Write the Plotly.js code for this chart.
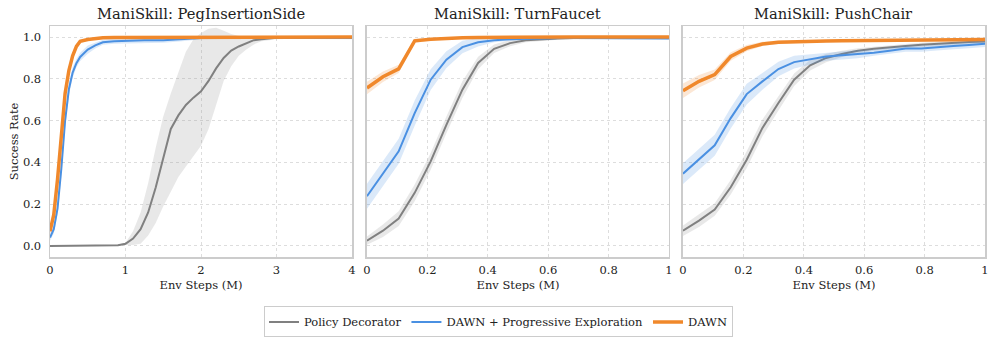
<!DOCTYPE html>
<html>
<head>
<meta charset="utf-8">
<script src="https://cdn.plot.ly/plotly-3.0.1.min.js"></script>
<style>
  body { margin: 0; background: #fff; }
  #chart { width: 997px; height: 340px; }
</style>
</head>
<body>
<div id="chart"></div>
<script>
// PegInsertionSide (0 - 4 M steps)
var pegX = [0, 0.05, 0.1, 0.15, 0.2, 0.25, 0.3, 0.35, 0.4, 0.5, 0.6, 0.7, 0.85, 1.0, 1.25, 1.5, 1.75, 2.0, 2.5, 3.0, 3.5, 4.0];
var pegDawn = [0.07, 0.15, 0.32, 0.53, 0.73, 0.84, 0.91, 0.955, 0.98, 0.988, 0.993, 0.997, 0.998, 0.998, 0.999, 1.0, 1.0, 1.0, 1.0, 1.0, 0.999, 1.0];
var pegDawnSd = [0.02, 0.03, 0.03, 0.03, 0.025, 0.02, 0.015, 0.01, 0.008, 0.005, 0.004, 0.003, 0.003, 0.003, 0.003, 0.003, 0.003, 0.003, 0.003, 0.003, 0.003, 0.003];
var pegProg = [0.04, 0.08, 0.18, 0.37, 0.6, 0.75, 0.83, 0.875, 0.905, 0.94, 0.96, 0.975, 0.98, 0.982, 0.985, 0.985, 0.99, 0.995, 0.997, 0.997, 0.996, 0.995];
var pegProgSd = [0.015, 0.02, 0.03, 0.035, 0.035, 0.03, 0.025, 0.02, 0.02, 0.02, 0.015, 0.012, 0.012, 0.012, 0.015, 0.012, 0.01, 0.006, 0.005, 0.005, 0.006, 0.006];
var pegPolicyX = [0, 0.5, 0.6, 0.9, 1.0, 1.1, 1.2, 1.3, 1.4, 1.5, 1.6, 1.7, 1.8, 1.9, 2.0, 2.1, 2.2, 2.3, 2.4, 2.5, 2.6, 2.7, 2.8, 3.0, 3.5, 4.0];
var pegPolicy = [0, 0.002, 0.005, 0.003, 0.01, 0.035, 0.08, 0.16, 0.28, 0.42, 0.56, 0.625, 0.675, 0.71, 0.74, 0.79, 0.85, 0.9, 0.935, 0.955, 0.97, 0.985, 0.99, 0.997, 0.998, 0.997];
var pegPolicyHi = [0.003, 0.005, 0.008, 0.006, 0.015, 0.07, 0.16, 0.3, 0.47, 0.62, 0.73, 0.83, 0.93, 0.99, 1.02, 1.04, 1.045, 1.03, 1.015, 1.005, 1.0, 1.0, 1.0, 1.0, 1.0, 1.0];
var pegPolicyLo = [0, 0, 0, 0, 0.005, 0.005, 0.01, 0.05, 0.11, 0.19, 0.26, 0.33, 0.38, 0.43, 0.48, 0.56, 0.68, 0.79, 0.86, 0.91, 0.94, 0.965, 0.98, 0.99, 0.995, 0.993];

// TurnFaucet / PushChair (0 - 1 M steps)
var stepsX = [0, 0.053, 0.105, 0.158, 0.211, 0.263, 0.316, 0.368, 0.421, 0.474, 0.526, 0.579, 0.632, 0.684, 0.737, 0.789, 0.842, 0.895, 0.947, 1];

var faucetDawn = [0.756, 0.81, 0.848, 0.982, 0.99, 0.995, 0.997, 0.998, 0.999, 1, 1, 1, 1, 1, 1, 1, 1, 1, 1, 1];
var faucetDawnSd = [0.03, 0.025, 0.02, 0.01, 0.006, 0.004, 0.003, 0.003, 0.003, 0.003, 0.003, 0.003, 0.003, 0.003, 0.003, 0.003, 0.003, 0.003, 0.003, 0.003];
var faucetProg = [0.238, 0.349, 0.453, 0.636, 0.796, 0.892, 0.952, 0.975, 0.985, 0.99, 0.993, 0.995, 0.996, 0.996, 0.996, 0.995, 0.995, 0.995, 0.994, 0.993];
var faucetProgSd = [0.06, 0.06, 0.06, 0.06, 0.05, 0.04, 0.03, 0.02, 0.01, 0.008, 0.006, 0.005, 0.005, 0.005, 0.005, 0.005, 0.005, 0.005, 0.005, 0.005];
var faucetPolicy = [0.025, 0.073, 0.131, 0.254, 0.405, 0.58, 0.748, 0.876, 0.944, 0.971, 0.985, 0.99, 0.993, 0.995, 0.996, 0.997, 0.997, 0.997, 0.997, 0.997];
var faucetPolicySd = [0.02, 0.03, 0.035, 0.04, 0.04, 0.04, 0.04, 0.03, 0.02, 0.015, 0.01, 0.008, 0.006, 0.005, 0.005, 0.004, 0.004, 0.004, 0.004, 0.004];

var chairDawn = [0.743, 0.788, 0.82, 0.907, 0.947, 0.967, 0.975, 0.978, 0.98, 0.981, 0.982, 0.983, 0.984, 0.985, 0.986, 0.986, 0.987, 0.987, 0.988, 0.988];
var chairDawnSd = [0.035, 0.03, 0.025, 0.02, 0.015, 0.01, 0.008, 0.006, 0.005, 0.005, 0.005, 0.005, 0.005, 0.005, 0.005, 0.005, 0.005, 0.005, 0.005, 0.005];
var chairProg = [0.346, 0.413, 0.482, 0.612, 0.727, 0.788, 0.847, 0.88, 0.892, 0.907, 0.913, 0.918, 0.925, 0.935, 0.945, 0.945, 0.952, 0.957, 0.962, 0.968];
var chairProgSd = [0.05, 0.05, 0.05, 0.05, 0.05, 0.04, 0.035, 0.03, 0.025, 0.02, 0.02, 0.02, 0.015, 0.015, 0.015, 0.015, 0.015, 0.015, 0.015, 0.015];
var chairPolicy = [0.073, 0.121, 0.174, 0.281, 0.413, 0.565, 0.684, 0.796, 0.865, 0.9, 0.919, 0.935, 0.944, 0.952, 0.957, 0.963, 0.968, 0.972, 0.976, 0.979];
var chairPolicySd = [0.025, 0.03, 0.03, 0.035, 0.04, 0.04, 0.035, 0.03, 0.025, 0.02, 0.015, 0.012, 0.01, 0.01, 0.01, 0.01, 0.01, 0.01, 0.01, 0.01];

var taskTitles = ["ManiSkill: PegInsertionSide", "ManiSkill: TurnFaucet", "ManiSkill: PushChair"];
var seriesNames = ["Policy Decorator", "DAWN + Progressive Exploration", "DAWN"];

var GRAY = "#808080", BLUE = "#4a90e2", ORANGE = "#f0882b";
var FONT = "DejaVu Serif, serif";

function plusMinus(m, sd, sign) {
  return m.map(function (v, i) { return v + sign * sd[i]; });
}

var traces = [];
function addSeries(ax, x, mean, lo, hi, color, band, name, width, legend) {
  traces.push({x: x, y: lo, xaxis: "x" + ax, yaxis: "y" + ax, mode: "lines",
    line: {width: 0, color: color}, showlegend: false, hoverinfo: "skip"});
  traces.push({x: x, y: hi, xaxis: "x" + ax, yaxis: "y" + ax, mode: "lines", fill: "tonexty",
    fillcolor: band, line: {width: 0, color: color}, showlegend: false, hoverinfo: "skip"});
  traces.push({x: x, y: mean, xaxis: "x" + ax, yaxis: "y" + ax, mode: "lines", name: name,
    line: {width: width, color: color}, showlegend: legend, legendgroup: name});
}

var gBand = "rgba(150,150,150,0.22)", bBand = "rgba(74,144,226,0.2)", oBand = "rgba(240,136,43,0.2)";

addSeries("", pegPolicyX, pegPolicy, pegPolicyLo, pegPolicyHi, GRAY, gBand, seriesNames[0], 2, true);
addSeries("", pegX, pegProg, plusMinus(pegProg, pegProgSd, -1), plusMinus(pegProg, pegProgSd, 1), BLUE, bBand, seriesNames[1], 2, true);
addSeries("", pegX, pegDawn, plusMinus(pegDawn, pegDawnSd, -1), plusMinus(pegDawn, pegDawnSd, 1), ORANGE, oBand, seriesNames[2], 3.5, true);

addSeries("2", stepsX, faucetPolicy, plusMinus(faucetPolicy, faucetPolicySd, -1), plusMinus(faucetPolicy, faucetPolicySd, 1), GRAY, gBand, seriesNames[0], 2, false);
addSeries("2", stepsX, faucetProg, plusMinus(faucetProg, faucetProgSd, -1), plusMinus(faucetProg, faucetProgSd, 1), BLUE, bBand, seriesNames[1], 2, false);
addSeries("2", stepsX, faucetDawn, plusMinus(faucetDawn, faucetDawnSd, -1), plusMinus(faucetDawn, faucetDawnSd, 1), ORANGE, oBand, seriesNames[2], 3.5, false);

addSeries("3", stepsX, chairPolicy, plusMinus(chairPolicy, chairPolicySd, -1), plusMinus(chairPolicy, chairPolicySd, 1), GRAY, gBand, seriesNames[0], 2, false);
addSeries("3", stepsX, chairProg, plusMinus(chairProg, chairProgSd, -1), plusMinus(chairProg, chairProgSd, 1), BLUE, bBand, seriesNames[1], 2, false);
addSeries("3", stepsX, chairDawn, plusMinus(chairDawn, chairDawnSd, -1), plusMinus(chairDawn, chairDawnSd, 1), ORANGE, oBand, seriesNames[2], 3.5, false);

function xAxis(domain, range, dtick) {
  return {
    domain: domain, range: range, dtick: dtick, tick0: 0,
    showline: true, mirror: true, linecolor: "#cccccc", linewidth: 1.5,
    showgrid: true, gridcolor: "#dddddd", griddash: "dot", zeroline: false,
    ticks: "", ticklabelstandoff: 2, tickfont: {size: 11.5, color: "#222"},
    title: {text: "Env Steps (M)", font: {size: 11.5, color: "#222"}, standoff: 4}
  };
}
function yAxis(anchor, labels) {
  return {
    anchor: anchor, range: [-0.053, 1.053], dtick: 0.2, tick0: 0, tickformat: ".1f",
    showline: true, mirror: true, linecolor: "#cccccc", linewidth: 1.5,
    showgrid: true, gridcolor: "#dddddd", griddash: "dot", zeroline: false,
    ticks: "", ticklabelstandoff: 5, showticklabels: labels, tickfont: {size: 11.5, color: "#222"}
  };
}

var doms = [[0, 0.323], [0.339, 0.662], [0.677, 1]];
var layout = {
  width: 997, height: 340,
  margin: {l: 50, r: 12, t: 26, b: 83},
  paper_bgcolor: "#fff", plot_bgcolor: "#fff",
  font: {family: FONT, color: "#222"},
  xaxis: xAxis(doms[0], [0, 4], 1),
  xaxis2: Object.assign(xAxis(doms[1], [0, 1], 0.2), {anchor: "y2"}),
  xaxis3: Object.assign(xAxis(doms[2], [0, 1], 0.2), {anchor: "y3"}),
  yaxis: Object.assign(yAxis("x", true), {title: {text: "Success Rate", font: {size: 11.5, color: "#222"}, standoff: 2}}),
  yaxis2: yAxis("x2", false),
  yaxis3: yAxis("x3", false),
  annotations: taskTitles.map(function (t, i) {
    return {text: t, xref: "paper", yref: "paper", x: (doms[i][0] + doms[i][1]) / 2, y: 1.052,
      xanchor: "center", yanchor: "middle", showarrow: false, font: {size: 14.7, color: "#222"}};
  }),
  legend: {orientation: "h", xref: "container", yref: "container", x: 0.5, xanchor: "center", y: 0.053, yanchor: "middle",
    bordercolor: "#cccccc", borderwidth: 1, font: {size: 11.5, color: "#222"}, bgcolor: "#fff"},
  showlegend: true
};

Plotly.newPlot("chart", traces, layout, {displayModeBar: false, staticPlot: true});
</script>
</body>
</html>
